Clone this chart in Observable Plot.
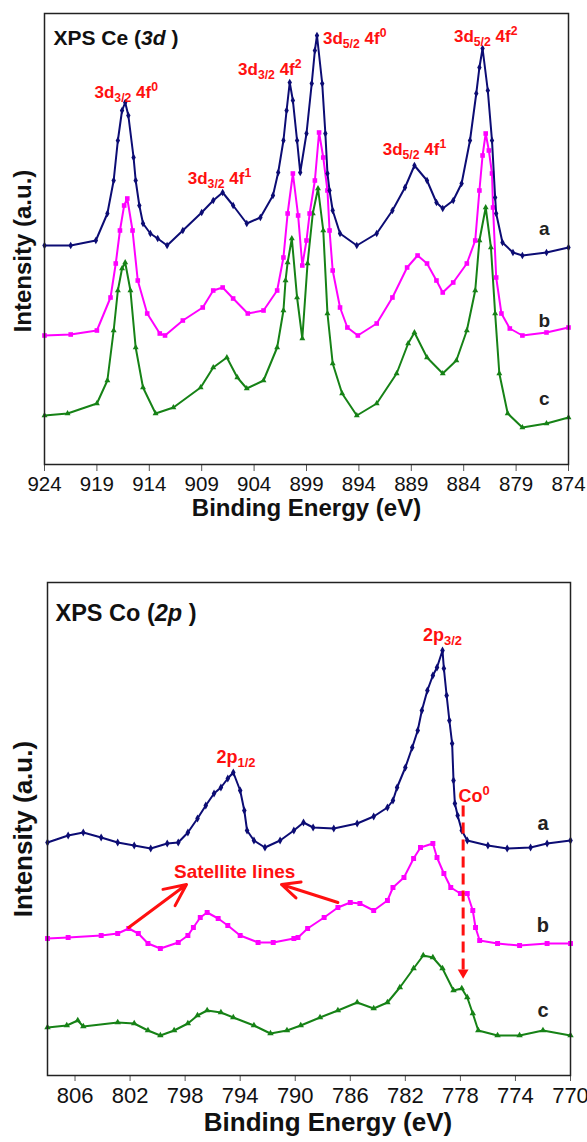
<!DOCTYPE html>
<html><head><meta charset="utf-8">
<script src="https://cdn.jsdelivr.net/npm/d3@7"></script>
<script src="https://cdn.jsdelivr.net/npm/@observablehq/plot@0.6"></script>
<style>
html,body{margin:0;padding:0;background:#fff;}
#chart svg{display:block;}
</style>
</head><body><div id="chart"></div>
<script>
// ===== Ce 3d panel: [binding energy (eV), intensity (a.u.)] =====
const ceA = [[924.0,219],[921.5,219],[919.1,224],[918.0,251],[917.4,284],[917.0,324],[916.6,354],[916.3,362],[916.0,349],[915.5,307],[915.3,284],[914.95,259],[914.6,241],[913.9,231],[913.2,226],[912.3,219],[910.8,234],[909.0,252],[907.9,264],[907.0,272],[906.0,259],[904.7,241],[903.4,247],[902.2,269],[901.7,292],[901.2,324],[900.9,354],[900.6,382],[900.3,364],[899.9,324],[899.6,292],[899.0,331],[898.5,381],[898.2,414],[898.0,429],[897.5,381],[897.2,331],[897.0,291],[896.8,274],[896.5,254],[895.8,231],[894.2,219],[892.3,231],[890.8,254],[889.6,277],[888.7,299],[887.5,284],[886.6,262],[886.0,256],[885.0,264],[884.2,281],[883.4,324],[882.8,371],[882.5,397],[882.2,416],[881.7,374],[881.3,324],[881.0,267],[880.9,251],[880.3,222],[879.3,212],[878.4,209],[876.1,212],[874.0,217]];
const ceB = [[924.0,129],[921.5,130],[919.0,134],[917.7,167],[917.2,201],[916.8,234],[916.4,259],[916.1,266],[915.6,234],[915.1,184],[914.2,151],[913.0,131],[912.5,129],[910.8,144],[908.9,157],[907.9,174],[907.0,177],[906.0,166],[904.6,151],[903.1,154],[901.8,174],[901.2,207],[900.8,251],[900.3,291],[899.8,249],[899.4,199],[899.0,224],[898.7,251],[898.2,284],[897.8,332],[897.4,307],[897.0,274],[896.8,234],[896.5,194],[895.8,157],[895.1,137],[894.1,129],[892.3,141],[890.8,167],[889.4,197],[888.4,209],[887.5,201],[886.6,184],[886.0,172],[885.0,182],[883.7,201],[882.9,224],[882.5,274],[882.2,309],[881.9,331],[881.6,314],[881.3,291],[881.2,257],[880.9,187],[880.4,151],[879.6,136],[878.4,129],[876.1,132],[874.0,137]];
const ceC = [[924.0,49],[921.8,51],[919.0,61],[918.0,84],[917.4,134],[917.0,174],[916.6,196],[916.3,202],[915.8,174],[915.3,117],[914.6,77],[913.4,51],[911.7,57],[909.1,77],[907.9,97],[906.6,107],[905.6,87],[904.7,76],[903.1,84],[901.8,117],[901.2,154],[901.0,184],[900.8,202],[900.4,226],[899.9,167],[899.4,126],[898.9,201],[898.4,251],[897.9,276],[897.4,234],[897.0,151],[896.5,101],[895.6,71],[894.2,49],[892.3,61],[890.4,91],[889.3,121],[888.7,132],[887.5,107],[886.0,91],[884.7,104],[883.7,134],[882.9,174],[882.5,224],[881.9,257],[881.4,217],[881.0,151],[880.6,91],[879.8,51],[878.4,37],[876.1,41],[874.0,47]];
const ceTicks = [924,919,914,909,904,899,894,889,884,879,874];
const cePeakText = ["3d_{3/2} 4f^{0}","3d_{3/2} 4f^{1}","3d_{3/2} 4f^{2}","3d_{5/2} 4f^{0}","3d_{5/2} 4f^{1}","3d_{5/2} 4f^{2}"];
const cePeakE = [916.2, 907.3, 902.5, 894.4, 888.7, 881.9];
const cePeakI = [367, 281, 390, 421, 310, 423];
const ceSeriesText = ["a","b","c"];
const ceSeriesE = [876.3, 876.3, 876.3];
const ceSeriesI = [236, 144, 66];

// ===== Co 2p panel =====
const coA = [[808.0,233],[806.5,240],[805.4,243],[804.1,238],[802.9,233],[801.7,230],[800.5,227],[799.3,232],[798.5,233],[797.8,243],[797.1,257],[796.5,270],[795.9,282],[795.4,288],[794.9,297],[794.5,303],[794.0,285],[793.7,265],[793.5,245],[793.0,235],[792.2,228],[791.1,235],[790.1,245],[789.4,253],[788.7,248],[787.2,247],[785.5,252],[784.3,259],[783.3,268],[782.9,275],[782.6,288],[782.0,308],[781.5,328],[781.1,345],[780.8,365],[780.4,385],[780.0,400],[779.7,408],[779.3,425],[779.2,407],[779.0,380],[778.8,355],[778.6,332],[778.5,295],[778.4,272],[778.2,260],[777.9,245],[777.5,235],[776.0,230],[774.6,227],[772.9,228],[771.7,232],[770.0,235]];
const coB = [[808.0,137],[806.5,138],[804.1,140],[802.9,142],[802.1,147],[801.4,142],[800.7,132],[799.8,127],[798.5,133],[797.8,140],[797.4,148],[796.9,158],[796.4,163],[795.6,157],[794.9,150],[794.0,140],[792.7,133],[791.6,133],[790.1,137],[789.8,138],[789.1,147],[787.9,158],[786.9,168],[786.0,173],[785.3,172],[784.3,165],[783.3,175],[782.9,188],[782.1,198],[781.4,217],[780.9,228],[780.0,232],[779.7,218],[779.2,202],[778.7,188],[778.0,182],[777.5,182],[777.1,165],[776.9,148],[776.6,135],[775.3,132],[773.7,130],[771.7,132],[770.0,132]];
const coC = [[808.0,48],[806.6,50],[805.8,55],[805.4,49],[802.9,53],[801.7,52],[800.7,45],[799.8,40],[798.8,45],[797.8,52],[797.1,60],[796.4,65],[795.4,63],[794.5,58],[793.0,50],[791.8,42],[790.6,45],[789.6,50],[788.2,58],[786.9,65],[785.5,73],[784.3,67],[783.3,73],[782.4,88],[781.4,107],[780.7,120],[780.0,118],[779.3,107],[778.5,85],[777.9,87],[777.5,78],[777.1,62],[776.7,45],[775.3,40],[773.7,40],[772.0,45],[770.0,40]];
const coTicks = [806,802,798,794,790,786,782,778,774,770];
const coPeakText = ["2p_{1/2}","2p_{3/2}","Co^{0}"];
const coPeakE = [794.3, 779.3, 777.0];
const coPeakI = [313, 435, 274];
const satText = ["Satellite lines"];
const satE = [794.4];
const satI = [198];
const satArrowFrom = [[802.1,148],[786.9,173]];
const satArrowTo = [[797.9,191],[791.0,191]];
const coMetalArrow = {e: 777.8, from: 270, to: 103};
const coSeriesText = ["a","b","c"];
const coSeriesE = [772.0, 772.0, 772.0];
const coSeriesI = [252, 150, 65];

// ===== styling =====
const FONT = "'Liberation Sans', Arial, Helvetica, sans-serif";
const NAVY = "#0c0c74", MAGENTA = "#ff00ff", GREEN = "#168216", RED = "#ff1010", INK = "#111";

const idx = a => a.map((_, i) => i);

function seriesMarks(pairs, color, symbol, r) {
  return [
    Plot.line(pairs, {x: d => d[0], y: d => d[1], stroke: color, strokeWidth: 2}),
    Plot.dot(pairs, {x: d => d[0], y: d => d[1], fill: color, stroke: "none", symbol, r})
  ];
}

// turn "_{..}" into subscripts, "^{..}" into superscripts, "*..*" into italics
function enrich(svg) {
  svg.querySelectorAll("text").forEach(t => {
    const s = t.textContent;
    if (!/_\{|\^\{|\*/.test(s)) return;
    const host = t.closest("[font-size]");
    const fs = host ? parseFloat(host.getAttribute("font-size")) : 18;
    const parts = s.split(/(_\{[^}]*\}|\^\{[^}]*\}|\*[^*]*\*)/).filter(p => p !== "");
    while (t.firstChild) t.removeChild(t.firstChild);
    let shift = 0;
    for (const p of parts) {
      const ts = document.createElementNS("http://www.w3.org/2000/svg", "tspan");
      let target = 0, txt = p;
      if (p.startsWith("_{")) { target = 0.24 * fs; txt = p.slice(2, -1); ts.setAttribute("font-size", 0.72 * fs); }
      else if (p.startsWith("^{")) { target = -0.36 * fs; txt = p.slice(2, -1); ts.setAttribute("font-size", 0.72 * fs); }
      else if (p.startsWith("*") && p.endsWith("*") && p.length > 1) { txt = p.slice(1, -1); ts.setAttribute("font-style", "italic"); }
      const d = target - shift;
      if (d) ts.setAttribute("dy", d);
      shift = target;
      ts.textContent = txt;
      t.appendChild(ts);
    }
  });
}

const baseStyle = {fontFamily: FONT, background: "white", color: INK, overflow: "visible"};

const topChart = Plot.plot({
  width: 587, height: 545,
  marginLeft: 44, marginRight: 19, marginTop: 13, marginBottom: 81,
  style: baseStyle,
  x: {domain: [924, 874]},
  y: {domain: [0, 451], axis: null},
  marks: [
    Plot.axisX({ticks: ceTicks, tickSize: 7, tickPadding: 5, fontSize: 20.5, label: null, stroke: "#555"}),
    ...seriesMarks(ceC, GREEN, "triangle", 2.2),
    ...seriesMarks(ceB, MAGENTA, "square", 2.6),
    ...seriesMarks(ceA, NAVY, "diamond", 2.3),
    Plot.frame({stroke: "#222", strokeWidth: 1.5}),
    Plot.text(["XPS Ce (*3d* )"], {text: d => d, frameAnchor: "top-left", dx: 9, dy: 31, textAnchor: "start", lineAnchor: "bottom", fontSize: 21, fontWeight: "bold", fill: INK}),
    Plot.text(idx(cePeakText), {x: i => cePeakE[i], y: i => cePeakI[i], text: i => cePeakText[i], lineAnchor: "bottom", fontSize: 17, fontWeight: "bold", fill: RED}),
    Plot.text(idx(ceSeriesText), {x: i => ceSeriesE[i], y: i => ceSeriesI[i], text: i => ceSeriesText[i], fontSize: 19, fontWeight: "bold", fill: "#222"}),
    Plot.text(["Binding Energy (eV)"], {text: d => d, frameAnchor: "bottom", textAnchor: "middle", dy: 51.5, fontSize: 24, fontWeight: "bold", fill: INK}),
    Plot.text(["Intensity (a.u.)"], {text: d => d, frameAnchor: "left", textAnchor: "middle", rotate: -90, dx: -21, dy: 12, fontSize: 24, fontWeight: "bold", fill: INK})
  ]
});

const botChart = Plot.plot({
  width: 587, height: 597,
  marginLeft: 47, marginRight: 17, marginTop: 37, marginBottom: 67,
  style: baseStyle,
  x: {domain: [808, 770]},
  y: {domain: [0, 493], axis: null},
  marks: [
    Plot.axisX({ticks: coTicks, tickSize: 6, tickPadding: 6, fontSize: 22, label: null, stroke: "#555"}),
    ...seriesMarks(coC, GREEN, "triangle", 2.4),
    ...seriesMarks(coB, MAGENTA, "square", 2.8),
    ...seriesMarks(coA, NAVY, "diamond", 2.4),
    Plot.frame({stroke: "#222", strokeWidth: 1.5}),
    Plot.text(["XPS Co (*2p* )"], {text: d => d, frameAnchor: "top-left", dx: 8, dy: 38, textAnchor: "start", lineAnchor: "bottom", fontSize: 23.5, fontWeight: "bold", fill: INK}),
    Plot.text(idx(coPeakText), {x: i => coPeakE[i], y: i => coPeakI[i], text: i => coPeakText[i], lineAnchor: "bottom", fontSize: 18, fontWeight: "bold", fill: RED}),
    Plot.text(idx(satText), {x: i => satE[i], y: i => satI[i], text: i => satText[i], lineAnchor: "bottom", fontSize: 19, fontWeight: "bold", fill: RED}),
    Plot.arrow(idx(satArrowFrom), {x1: i => satArrowFrom[i][0], y1: i => satArrowFrom[i][1], x2: i => satArrowTo[i][0], y2: i => satArrowTo[i][1], stroke: RED, strokeWidth: 3, headLength: 12, headAngle: 50}),
    Plot.link([coMetalArrow], {x1: d => d.e, x2: d => d.e, y1: d => d.from, y2: d => d.to, stroke: RED, strokeWidth: 3, strokeDasharray: "11,6"}),
    Plot.dot([coMetalArrow], {x: d => d.e, y: d => d.to, symbol: "triangle", rotate: 180, r: 4, fill: RED, stroke: "none"}),
    Plot.text(idx(coSeriesText), {x: i => coSeriesE[i], y: i => coSeriesI[i], text: i => coSeriesText[i], fontSize: 20, fontWeight: "bold", fill: "#222"}),
    Plot.text(["Binding Energy (eV)"], {text: d => d, frameAnchor: "bottom", textAnchor: "middle", dx: 19, dy: 55, fontSize: 26, fontWeight: "bold", fill: INK}),
    Plot.text(["Intensity (a.u.)"], {text: d => d, frameAnchor: "left", textAnchor: "middle", rotate: -90, dx: -24, dy: 0, fontSize: 26, fontWeight: "bold", fill: INK})
  ]
});

const host = document.getElementById("chart");
host.appendChild(topChart);
host.appendChild(botChart);
enrich(topChart);
enrich(botChart);
</script>
</body></html>
